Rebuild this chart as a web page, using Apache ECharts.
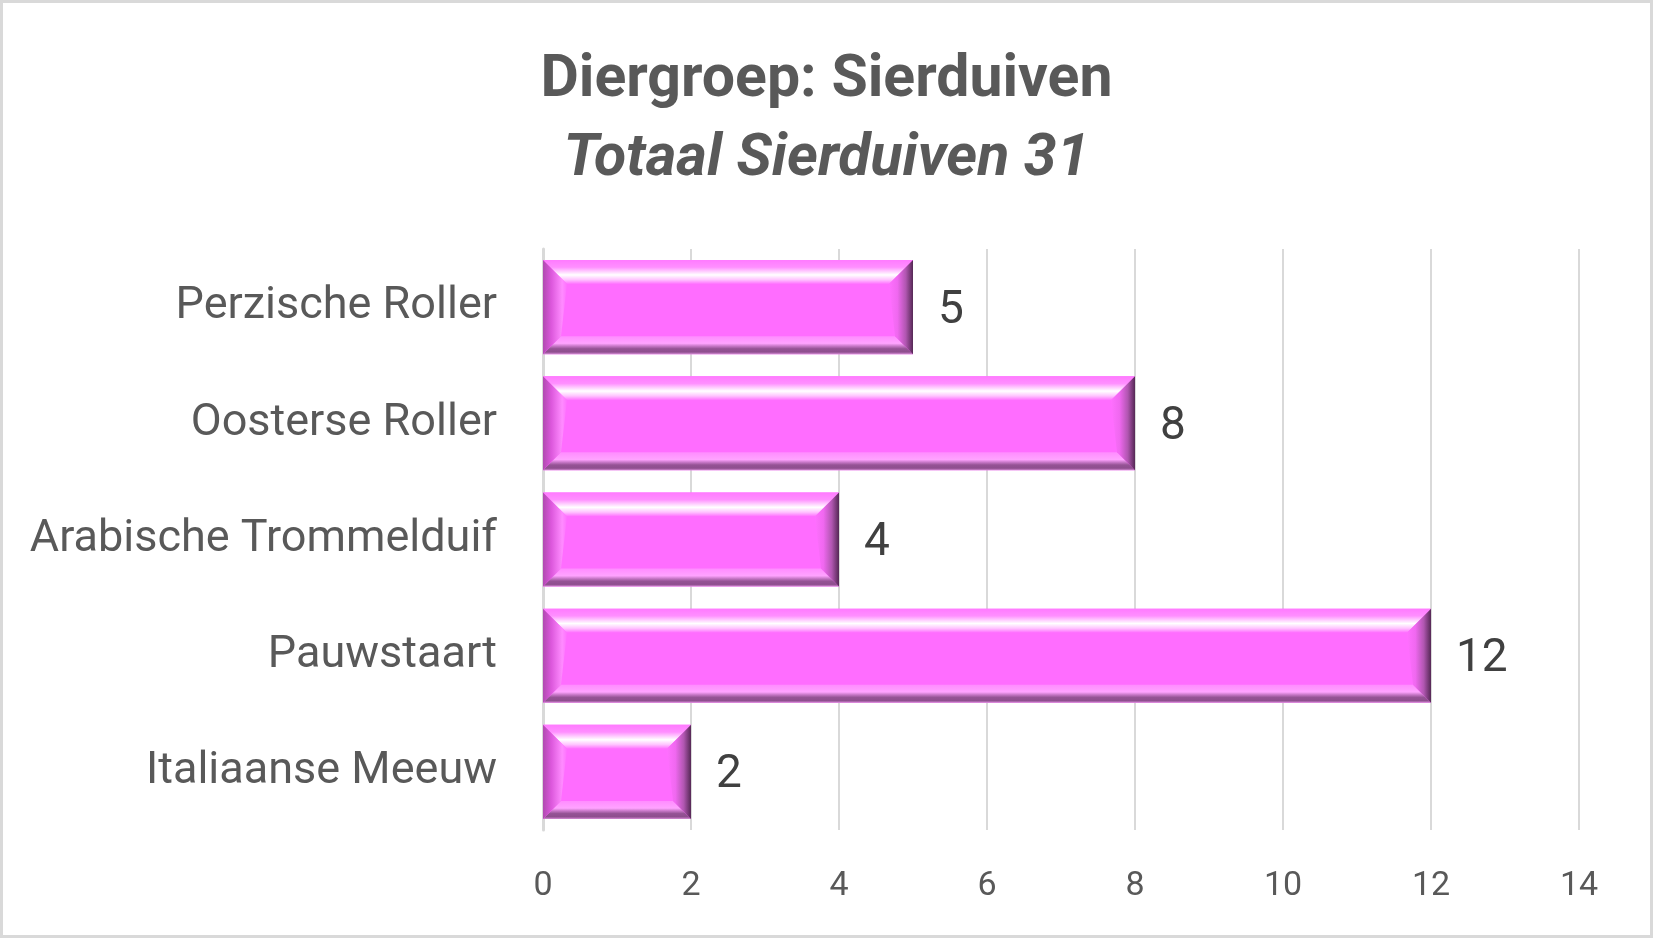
<!DOCTYPE html>
<html>
<head>
<meta charset="utf-8">
<script src="https://cdn.jsdelivr.net/npm/echarts@6/dist/echarts.min.js"></script>
<style>
    html, body { margin: 0; padding: 0; background: #fff; }
    #bar-chart { width: 1653px; height: 938px; }
</style>
</head>
<body>
<div id="bar-chart"></div>
<script>
var categories = ['Perzische Roller', 'Oosterse Roller', 'Arabische Trommelduif', 'Pauwstaart', 'Italiaanse Meeuw'];
var counts = [5, 8, 4, 12, 2];
var xTicks = [0, 2, 4, 6, 8, 10, 12, 14];

function lin(x0, y0, x1, y1, stops) {
    return new echarts.graphic.LinearGradient(x0, y0, x1, y1, stops.map(function (s) {
        return { offset: s[0], color: s[1] };
    }));
}

// bar with a bevelled edge, like the office "bevel" effect
function renderBevelBar(params, api) {
    var cat = api.value(0);
    var val = api.value(1);
    var start = api.coord([0, cat]);
    var end = api.coord([val, cat]);
    var h = api.size([0, 1])[1] * 0.81;
    var x0 = start[0], x1 = end[0];
    var y0 = end[1] - h / 2, y1 = end[1] + h / 2;
    var bt = 24, bb = 18;   // top / bottom bevel
    return {
        type: 'group',
        children: [{
            type: 'rect',
            shape: { x: x0, y: y0, width: x1 - x0, height: h },
            style: { fill: '#ff6dff' }
        }, {
            type: 'polygon',
            shape: { points: [[x0, y0], [x1, y0], [x1 - bt, y0 + bt], [x0 + bt, y0 + bt]] },
            style: { fill: lin(0, 0, 0, 1, [[0, '#ff7aff'], [0.3, '#ff8fff'], [0.5, '#ffd6ff'], [0.62, '#ffffff'], [0.82, '#ffc4ff'], [1, '#ff70ff']]) }
        }, {
            type: 'polygon',
            shape: { points: [[x0 + bb, y1 - bb], [x1 - bb, y1 - bb], [x1, y1], [x0, y1]] },
            style: { fill: lin(0, 0, 0, 1, [[0, '#ff8cff'], [0.4, '#ffa3ff'], [0.55, '#c878c8'], [0.7, '#955395'], [0.88, '#8e4e8e'], [1, '#d58ad5']]) }
        }, {
            type: 'polygon',
            shape: { points: [[x0, y0], [x0 + bt, y0 + bt], [x0 + bb, y1 - bb], [x0, y1]] },
            style: { fill: lin(0, 0, 1, 0, [[0, '#b04ab0'], [0.35, '#dc58dc'], [0.8, '#ff8cff'], [1, '#ff70ff']]) }
        }, {
            type: 'polygon',
            shape: { points: [[x1, y0], [x1, y1], [x1 - bb, y1 - bb], [x1 - bt, y0 + bt]] },
            style: { fill: lin(0, 0, 1, 0, [[0, '#ff70ff'], [0.35, '#f068f0'], [0.7, '#b056b0'], [1, '#552855']]) }
        }, {
            type: 'text',
            style: {
                text: String(val),
                x: x1 + 25,
                y: end[1] + 4,
                textAlign: 'left',
                textVerticalAlign: 'middle',
                fill: '#404040',
                font: '46px Roboto'
            }
        }]
    };
}

function initBarChart() {
    var _chart = echarts.init(document.getElementById('bar-chart'));
    var data = counts.map(function (v, i) { return [i, v]; });
    var option = {
        backgroundColor: '#fff',
        animation: false,
        title: [{
            text: 'Diergroep: Sierduiven',
            left: 'center',
            top: 47,
            textStyle: { fontFamily: 'Roboto', fontWeight: 'bold', fontSize: 59, color: '#595959' }
        }, {
            text: 'Totaal Sierduiven 31',
            left: 'center',
            top: 126,
            textStyle: { fontFamily: 'Roboto', fontWeight: 'bold', fontStyle: 'italic', fontSize: 59, color: '#595959' }
        }],
        graphic: [{
            type: 'rect',
            shape: { x: 1.5, y: 1.5, width: 1650, height: 935 },
            style: { fill: 'none', stroke: '#d9d9d9', lineWidth: 3 },
            silent: true
        }],
        grid: {
            left: 543,
            right: 74,
            top: 249,
            bottom: 108
        },
        xAxis: {
            type: 'value',
            min: xTicks[0],
            max: xTicks[xTicks.length - 1],
            interval: 2,
            axisLine: { show: false },
            axisTick: { show: false },
            splitLine: { lineStyle: { color: '#d9d9d9', width: 2 } },
            axisLabel: {
                fontFamily: 'Roboto',
                fontSize: 34,
                color: '#595959',
                margin: 39
            }
        },
        yAxis: {
            type: 'category',
            inverse: true,
            data: categories,
            axisTick: { show: false },
            axisLine: { lineStyle: { color: '#d9d9d9', width: 3 } },
            axisLabel: {
                fontFamily: 'Roboto',
                fontSize: 45,
                color: '#595959',
                margin: 46,
                padding: [12, 0, 0, 0]
            }
        },
        series: [{
            type: 'custom',
            renderItem: renderBevelBar,
            encode: { x: 1, y: 0 },
            data: data
        }]
    };
    _chart.setOption(option);
    window.addEventListener('resize', function () {
        _chart.resize();
    });
}

initBarChart();
</script>
</body>
</html>
